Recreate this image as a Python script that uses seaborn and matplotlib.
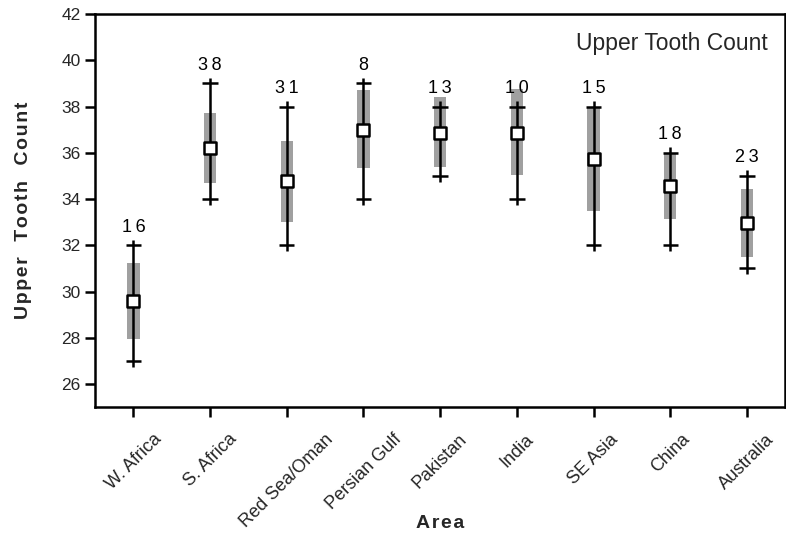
import matplotlib
matplotlib.use("Agg")
import matplotlib.pyplot as plt
import numpy as np
import pandas as pd
import seaborn as sns

areas = ["W. Africa", "S. Africa", "Red Sea/Oman", "Persian Gulf", "Pakistan",
         "India", "SE Asia", "China", "Australia"]
means = [29.6, 36.2, 34.8, 37.0, 36.85, 36.85, 35.75, 34.55, 32.95]
band_low = [27.95, 34.7, 33.0, 35.35, 35.4, 35.05, 33.5, 33.15, 31.5]
band_high = [31.25, 37.7, 36.5, 38.7, 38.4, 38.75, 38.0, 36.0, 34.45]
mins = [27, 34, 32, 34, 35, 34, 32, 32, 31]
maxs = [32, 39, 38, 39, 38, 38, 38, 36, 35]
counts = [16, 38, 31, 8, 13, 10, 15, 18, 23]

df = pd.DataFrame({"Area": areas, "mean": means, "lo": band_low, "hi": band_high,
                   "min": mins, "max": maxs, "n": counts})

THIN = "\u2009"
HAIR = "\u200a"


def spaced(s, gap=THIN, word_gap=THIN * 4):
    # letter-spaced text like the original typesetting
    return word_gap.join(gap.join(w) for w in s.split(" "))


sns.set_theme(style="ticks")
plt.rcParams["font.family"] = ["Liberation Sans", "DejaVu Sans"]

fig = plt.figure(figsize=(7.86, 5.38), dpi=100)
ax = fig.add_axes([0.121, 0.243, 0.878, 0.731])

x = np.arange(len(df))

# shaded band around the mean
ax.bar(x, df["hi"] - df["lo"], bottom=df["lo"], width=0.16,
       color="#a0a0a0", edgecolor="none", zorder=1)
# min-max range; the line pokes a little past the caps, giving "+" ends
overshoot = 0.25
ax.vlines(x, df["min"] - overshoot, df["max"] + overshoot, color="black",
          linewidth=1.8, zorder=2)
ax.hlines(df["min"], x - 0.1, x + 0.1, color="black", linewidth=1.8, zorder=2)
ax.hlines(df["max"], x - 0.1, x + 0.1, color="black", linewidth=1.8, zorder=2)

sns.scatterplot(data=df, x=x, y="mean", marker="s", s=80, color="white",
                edgecolor="black", linewidth=1.8, zorder=3, ax=ax)

for xi, top, n in zip(x, df["max"], df["n"]):
    ax.annotate(spaced(str(n)), (xi, top), xytext=(0, 7), textcoords="offset points",
                ha="center", va="bottom", fontsize=13, color="black")

ax.text(0.975, 0.925, "Upper Tooth Count", transform=ax.transAxes,
        ha="right", va="center", fontsize=16.5)

ax.set_xlim(-0.5, len(df) - 0.5)
ax.set_ylim(25, 42)
ax.set_yticks(np.arange(26, 43, 2))
ax.set_xticks(x)
ax.set_xticklabels(areas, rotation=45, ha="center", fontsize=13)
ax.tick_params(axis="y", labelsize=12.5)
ax.tick_params(axis="x", pad=10)
ax.tick_params(direction="out", length=7, width=1.8, color="black")

ax.set_xlabel(spaced("Area", HAIR), fontsize=14, fontweight="bold")
ax.set_ylabel(spaced("Upper Tooth Count", HAIR), fontsize=14, fontweight="bold")
ax.xaxis.set_label_coords(0.5, -0.275)
ax.yaxis.set_label_coords(-0.092, 0.5)

for spine in ax.spines.values():
    spine.set_visible(True)
    spine.set_linewidth(1.8)
    spine.set_edgecolor("black")

fig.savefig("out.png", dpi=100)
plt.close(fig)
